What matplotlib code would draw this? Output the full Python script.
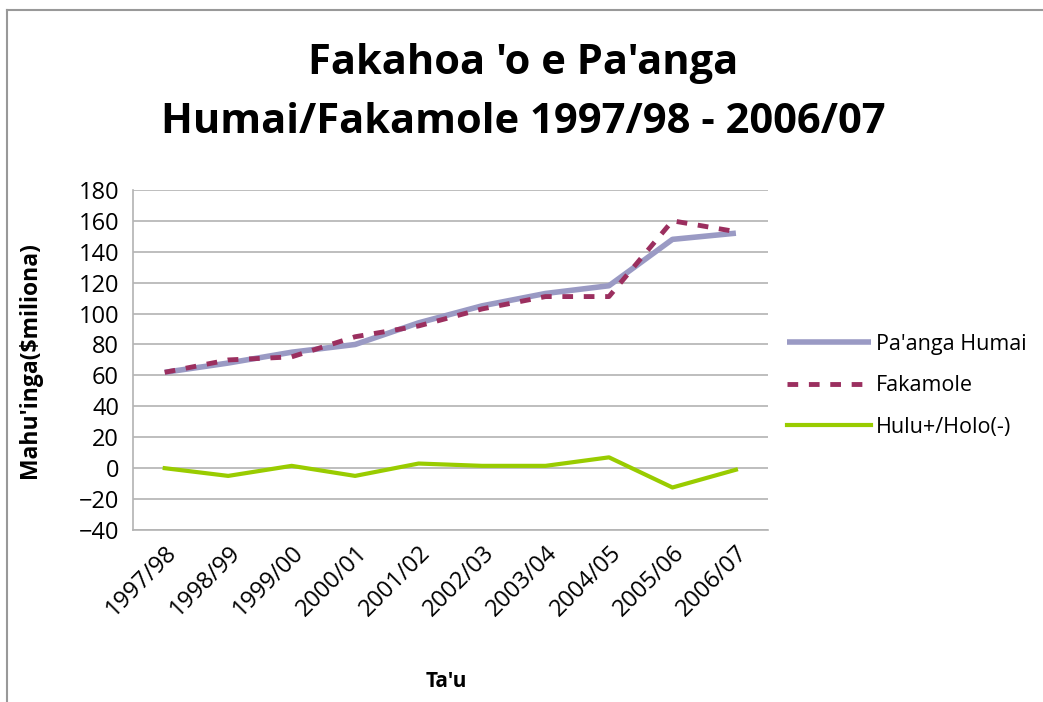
import matplotlib.pyplot as plt
from matplotlib.lines import Line2D

# data
years = ['1997/98', '1998/99', '1999/00', '2000/01', '2001/02',
         '2002/03', '2003/04', '2004/05', '2005/06', '2006/07']
humai = [62, 68, 75, 80, 94, 105, 113, 118, 148, 152]
fakamole = [62, 70, 72, 85, 92, 103, 111, 111, 160, 153]
hulu_holo = [0, -5, 1.5, -5, 3, 1.5, 1.5, 7, -12.5, -1]

plt.rcParams['font.family'] = ['Open Sans', 'DejaVu Sans']

fig = plt.figure(figsize=(10.43, 7.02), dpi=100)
ax = fig.add_axes([0.1275, 0.245, 0.6085, 0.4845])

x = range(len(years))
ax.plot(x, humai, color='#9a9ac4', lw=4, solid_capstyle='butt', label="Pa'anga Humai")
ax.plot(x, fakamole, color='#9b2f5f', lw=3.5, ls=(0, (2.2, 2.2)), label='Fakamole')
ax.plot(x, hulu_holo, color='#99cc00', lw=3, label='Hulu+/Holo(-)')

ax.set_xlim(-0.5, len(years) - 0.5)
ax.set_ylim(-40, 180)
ax.set_yticks(range(-40, 181, 20))
ax.set_xticks(list(x))
ax.set_xticklabels(years, rotation=45, ha='right', rotation_mode='anchor', fontsize=17)
ax.tick_params(axis='y', labelsize=17, length=0, pad=10)
ax.tick_params(axis='x', length=0, pad=8)
ax.grid(axis='y', color='#b3b3b3', lw=1.2)
ax.set_axisbelow(True)
for s in ['top', 'right']:
    ax.spines[s].set_visible(False)
for s in ['left', 'bottom']:
    ax.spines[s].set_color('#b3b3b3')
    ax.spines[s].set_linewidth(1.2)

ax.set_ylabel("Mahu'inga($miliona)", fontsize=16.5, fontweight='bold', labelpad=26)
fig.text(0.428, 0.022, "Ta'u", fontsize=15, fontweight='bold', ha='center')

fig.text(0.502, 0.91, "Fakahoa 'o e Pa'anga", fontsize=30, fontweight='bold', ha='center', va='center')
fig.text(0.502, 0.825, "Humai/Fakamole 1997/98 - 2006/07", fontsize=30, fontweight='bold', ha='center', va='center')

ax.legend(loc='upper left', bbox_to_anchor=(0.746, 0.537), bbox_transform=fig.transFigure,
          frameon=False, fontsize=15.5, handlelength=3.9, handletextpad=0.25,
          labelspacing=0.95, borderaxespad=0)

# chart area border (top and left edges)
fig.add_artist(Line2D([0.007, 1.0], [0.986, 0.986], color='#999999', lw=1.5))
fig.add_artist(Line2D([0.007, 0.007], [0.0, 0.986], color='#999999', lw=1.5))

fig.savefig('out.png', dpi=100)
